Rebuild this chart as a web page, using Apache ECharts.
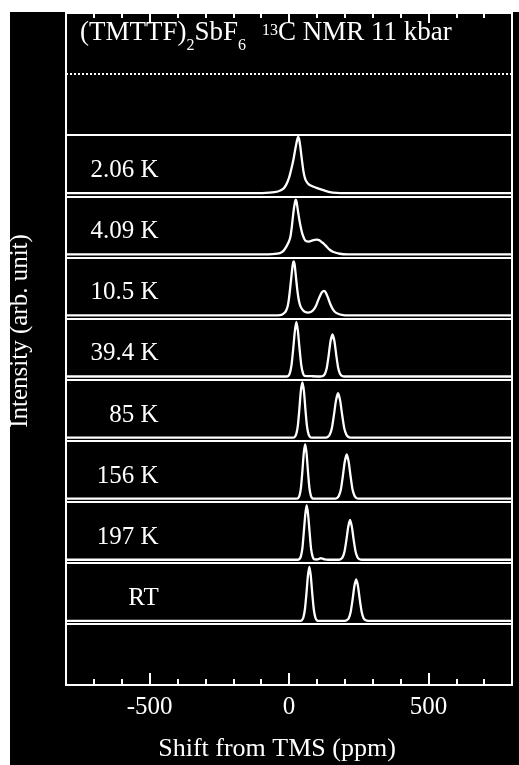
<!DOCTYPE html>
<html><head><meta charset="utf-8">
<script src="https://cdn.jsdelivr.net/npm/echarts@6/dist/echarts.min.js"></script>
<style>html,body{margin:0;padding:0;background:#fff}#c{width:519px;height:765px}</style>
</head><body><div id="c"></div>
<script>
// ---- data (x = shift in ppm, v = normalised intensity) ----
const labels = ['2.06 K', '4.09 K', '10.5 K', '39.4 K', '85 K', '156 K', '197 K', 'RT'];

const spec206K = [[-800,0],[-120,0],[-70,0.01],[-40,0.03],[-20,0.08],[-9,0.16],[0,0.27],[5,0.36],[12,0.5],[17,0.62],[22,0.76],[27,0.89],[31,0.97],[33,0.99],[36,0.96],[40,0.84],[44,0.68],[48,0.52],[52,0.38],[57,0.27],[62,0.21],[70,0.16],[80,0.13],[95,0.1],[110,0.075],[128,0.045],[146,0.02],[170,0.005],[200,0],[800,0]];
const spec409K = [[-800,0],[-90,0],[-60,0.005],[-33,0.02],[-20,0.06],[-9,0.14],[0,0.23],[5,0.31],[10,0.48],[14,0.66],[18,0.82],[22,0.93],[24,0.96],[27,0.93],[31,0.8],[36,0.64],[42,0.48],[48,0.36],[55,0.27],[62,0.23],[72,0.225],[82,0.24],[92,0.255],[100,0.26],[108,0.25],[116,0.22],[124,0.19],[134,0.14],[146,0.08],[160,0.04],[182,0.01],[210,0],[800,0]];
const spec105K = [[-800,0],[-60,0],[-27,0.01],[-15,0.05],[-9,0.1],[-4,0.18],[0,0.3],[4,0.47],[8.5,0.68],[12,0.84],[15,0.93],[17,0.95],[20,0.9],[23,0.77],[26.5,0.6],[31,0.4],[36,0.25],[42,0.15],[50,0.09],[58,0.06],[68,0.05],[78,0.06],[88,0.1],[96,0.16],[104,0.26],[112,0.35],[119,0.41],[126,0.43],[132,0.4],[140,0.31],[148,0.2],[156,0.12],[165,0.06],[176,0.03],[190,0.01],[210,0],[800,0]];
const spec394K = [[-800,0],[-10,0],[-2.5,0.01],[3,0.06],[9,0.2],[15,0.48],[21,0.8],[26.5,0.96],[32,0.8],[38,0.48],[44,0.2],[50,0.06],[56,0.01],[80,0.005],[110,0],[122,0.01],[129,0.05],[135.5,0.15],[142,0.36],[149,0.62],[156,0.74],[163,0.62],[170,0.36],[176.5,0.15],[183,0.05],[190,0.01],[200,0],[800,0]];
const spec85K = [[-800,0],[14,0],[20.5,0.01],[26,0.06],[31.5,0.2],[37,0.49],[42.5,0.82],[48,0.97],[53.5,0.82],[59,0.49],[64.5,0.2],[70,0.06],[75.5,0.01],[82,0],[132,0],[138.5,0.01],[146,0.05],[153.5,0.16],[161,0.39],[168.5,0.65],[176,0.78],[183.5,0.65],[191,0.39],[198.5,0.16],[206,0.05],[213.5,0.01],[220,0],[800,0]];
const spec156K = [[-800,0],[27,0],[33,0.01],[38,0.06],[43,0.2],[48,0.48],[53,0.8],[58,0.96],[63,0.8],[68,0.48],[73,0.2],[78,0.06],[83,0.01],[90,0],[165,0],[172,0.01],[179,0.05],[186,0.16],[193,0.39],[200,0.65],[207,0.78],[214,0.65],[221,0.39],[228,0.16],[235,0.05],[242,0.01],[250,0],[800,0]];
const spec197K = [[-800,0],[30,0],[37,0.01],[42.5,0.06],[48,0.2],[53,0.48],[58.5,0.8],[63.5,0.96],[68.5,0.8],[74,0.48],[79,0.2],[84.5,0.06],[90,0.01],[100,0.005],[108,0.015],[114,0.03],[120,0.02],[128,0.005],[140,0],[178,0],[185,0.01],[192,0.04],[199,0.14],[206,0.35],[212.5,0.58],[219,0.7],[225.5,0.58],[232,0.35],[239,0.14],[246,0.04],[253,0.01],[262,0],[800,0]];
const specRT = [[-800,0],[40,0],[46,0.01],[51.5,0.06],[57,0.2],[62.5,0.48],[68,0.8],[73,0.95],[78,0.8],[83.5,0.48],[89,0.2],[94.5,0.06],[100,0.01],[108,0],[200,0],[207,0.01],[214,0.04],[221,0.15],[228,0.37],[234.5,0.61],[241,0.73],[247.5,0.61],[254,0.37],[261,0.15],[268,0.04],[275,0.01],[284,0],[800,0]];

const xMinorTicks = [-700,-600,-500,-400,-300,-200,-100,0,100,200,300,400,500,600,700];
const xMajorTicks = [-500, 0, 500];

// ---- layout ----
const spectra = [spec206K, spec409K, spec105K, spec394K, spec85K, spec156K, spec197K, specRT];
const panelBase = [8, 7, 6, 5, 4, 3, 2, 1];
const separators = [1, 2, 3, 4, 5, 6, 7, 8, 9];
const FONT = "'Liberation Serif', 'DejaVu Serif', serif";
const W = '#ffffff';

const chart = echarts.init(document.getElementById('c'), null, {renderer: 'canvas'});

function xAx(pos, ticks, len, withLabels) {
  return {
    type: 'value', position: pos, min: -800, max: 800, gridIndex: 0,
    axisLine: {show: false, onZero: false},
    splitLine: {show: false},
    axisTick: {show: true, inside: true, length: len, customValues: ticks, lineStyle: {color: W, width: 2}},
    axisLabel: withLabels ? {show: true, customValues: xMajorTicks, color: W, fontFamily: FONT, fontSize: 25, margin: 10} : {show: false}
  };
}

const series = spectra.map((s, i) => ({
  type: 'line', xAxisIndex: 0, yAxisIndex: 0,
  data: s.map(([x, v]) => [x, panelBase[i] + 0.05 + v * 0.93]),
  showSymbol: false, smooth: 0.2, silent: true,
  lineStyle: {color: W, width: 2.3}, z: 3
}));

series.push({
  type: 'line', data: [], xAxisIndex: 0, yAxisIndex: 0,
  markLine: {
    silent: true, symbol: ['none', 'none'], label: {show: false},
    lineStyle: {color: W, width: 2, type: 'solid'},
    data: separators.map(y => ({yAxis: y})).concat([{yAxis: 10, lineStyle: {color: W, width: 2, type: [2, 2]}}])
  }
});

series.push({
  type: 'scatter', xAxisIndex: 0, yAxisIndex: 0, silent: true,
  symbolSize: 2, itemStyle: {color: 'rgba(0,0,0,0)', opacity: 1},
  data: labels.map((t, i) => ({name: t, value: [-464, panelBase[i] + 0.42]})),
  label: {show: true, position: 'left', distance: 0, formatter: '{b}', color: W, opacity: 1, fontFamily: FONT, fontSize: 25, fontWeight: 'normal'},
  z: 5
});

chart.setOption({
  backgroundColor: '#000',
  animation: false,
  title: {
    left: 80, top: 12, padding: 0,
    text: '{a|(TMTTF)}{s|2}{a|SbF}{s|6}{g|}{p|13}{a|C NMR 11 kbar}',
    textStyle: {
      fontWeight: 'normal', fontFamily: FONT,
      rich: {
        a: {color: W, fontFamily: FONT, fontWeight: 'normal', fontSize: 27, lineHeight: 42},
        s: {color: W, fontFamily: FONT, fontWeight: 'normal', fontSize: 16, lineHeight: 13, verticalAlign: 'bottom'},
        p: {color: W, fontFamily: FONT, fontWeight: 'normal', fontSize: 16, lineHeight: 17, verticalAlign: 'middle', padding: [0, 0, 5, 0]},
        g: {width: 16, lineHeight: 42}
      }
    }
  },
  grid: {left: 66, right: 7, top: 13, bottom: 80, show: true, borderColor: W, borderWidth: 2, backgroundColor: 'transparent'},
  xAxis: [
    xAx('bottom', xMinorTicks, 6, false),
    xAx('bottom', xMajorTicks, 12, true),
    xAx('top', xMinorTicks, 5, false),
    xAx('top', xMajorTicks, 10, false)
  ],
  yAxis: [{type: 'value', min: 0, max: 11, interval: 1, axisLine: {show: false}, axisTick: {show: false}, axisLabel: {show: false}, splitLine: {show: false}}],
  graphic: [
    {type: 'rect', shape: {x: 0, y: 0, width: 10, height: 765}, style: {fill: W}, z: -10, silent: true},
    {type: 'rect', shape: {x: 0, y: 0, width: 519, height: 12}, style: {fill: W}, z: -10, silent: true},
    {type: 'text', x: 20, y: 331, rotation: Math.PI / 2, silent: true,
     style: {text: 'Intensity (arb. unit)', fill: W, font: "25px " + FONT, align: 'center', verticalAlign: 'middle'}},
    {type: 'text', x: 277, y: 749, silent: true,
     style: {text: 'Shift from TMS (ppm)', fill: W, font: "26px " + FONT, align: 'center', verticalAlign: 'middle'}}
  ],
  series: series
});
</script></body></html>
